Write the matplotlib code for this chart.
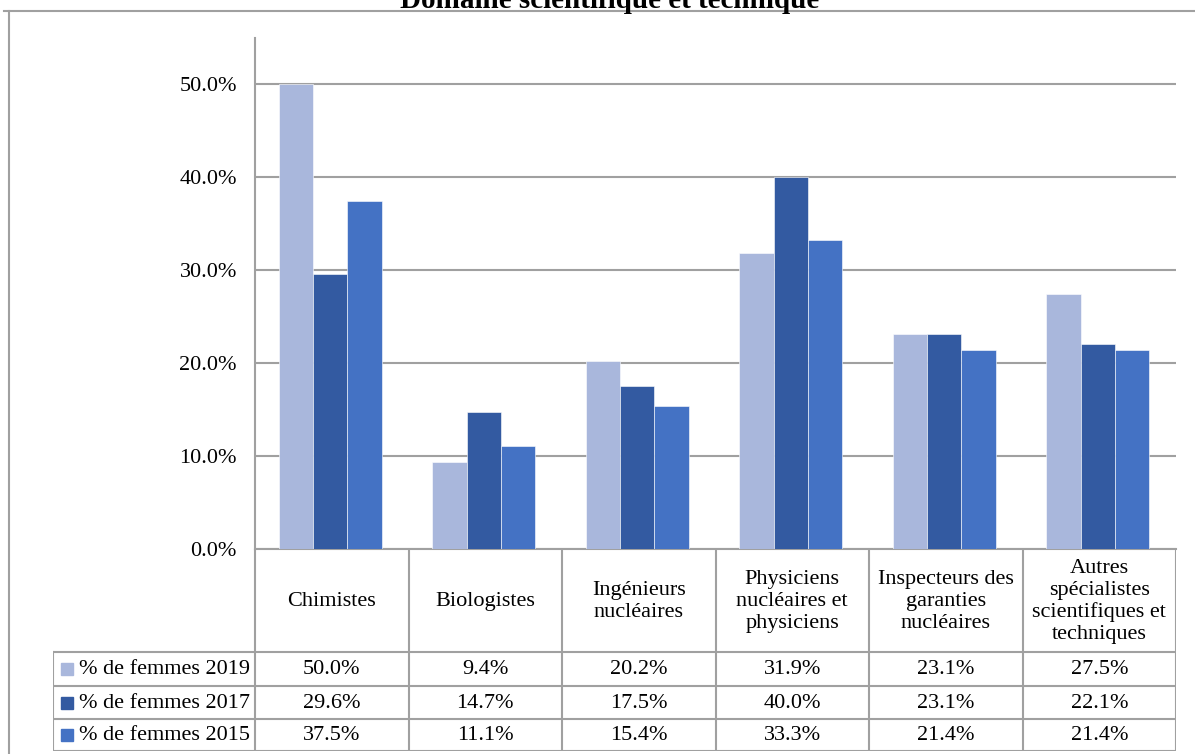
import matplotlib
matplotlib.use("Agg")
import matplotlib.pyplot as plt
from matplotlib.lines import Line2D
from matplotlib.patches import Rectangle
from matplotlib.ticker import FuncFormatter
import numpy as np

plt.rcParams["font.family"] = ["Liberation Serif", "DejaVu Serif"]

title = "Domaine scientifique et technique"
categories = [
    "Chimistes",
    "Biologistes",
    "Ingénieurs\nnucléaires",
    "Physiciens\nnucléaires et\nphysiciens",
    "Inspecteurs des\ngaranties\nnucléaires",
    "Autres\nspécialistes\nscientifiques et\ntechniques",
]
series_labels = ["% de femmes 2019", "% de femmes 2017", "% de femmes 2015"]
femmes_2019 = [50.0, 9.4, 20.2, 31.9, 23.1, 27.5]
femmes_2017 = [29.6, 14.7, 17.5, 40.0, 23.1, 22.1]
femmes_2015 = [37.5, 11.1, 15.4, 33.3, 21.4, 21.4]
colors = ["#A9B7DC", "#335AA1", "#4472C4"]
y_ticks = [0, 10, 20, 30, 40, 50]

W, H = 1195, 754
GRAY = "#A0A0A0"
FS = 16

fig = plt.figure(figsize=(W / 100, H / 100), dpi=100)


def fx(px):
    return px / W


def fy(py):
    return 1 - py / H


# plot area in pixels
left, right, top, bottom = 255, 1176, 38, 549
ax = fig.add_axes([fx(left), fy(bottom), fx(right - left), (bottom - top) / H])

series = [femmes_2019, femmes_2017, femmes_2015]
x = np.arange(len(categories))
bw = 0.224
for i, (vals, col) in enumerate(zip(series, colors)):
    ax.bar(x - 0.01 + (i - 1) * bw, vals, bw, color=col, edgecolor="white",
           linewidth=0.4, zorder=3)

ax.set_xlim(-0.5, len(categories) - 0.5)
ax.set_ylim(0, 55)
ax.set_yticks(y_ticks)
ax.yaxis.set_major_formatter(FuncFormatter(lambda v, p: f"{v:.1f}%"))
ax.tick_params(axis="y", length=0, labelsize=FS, pad=13)
ax.set_xticks([])
ax.grid(axis="y", color=GRAY, linewidth=1.5, zorder=1)
for s in ["top", "right"]:
    ax.spines[s].set_visible(False)
ax.spines["left"].set_color(GRAY)
ax.spines["left"].set_linewidth(1.5)
ax.spines["bottom"].set_color(GRAY)
ax.spines["bottom"].set_linewidth(1.5)

# data table below the axes
tleft, tbottom = 53, 751
upp = (right - left) / len(categories)
tx0 = -0.5 - (left - tleft) / upp
tax = fig.add_axes([fx(tleft), fy(tbottom), fx(right - tleft), (tbottom - bottom) / H])
tax.set_xlim(tx0, len(categories) - 0.5)
row_edges = [0, 103, 137, 170, 202]
tax.set_ylim(row_edges[-1], 0)
tax.axis("off")

lk = dict(color=GRAY, linewidth=1.5, solid_capstyle="projecting")
for k in range(len(categories) + 1):
    tax.plot([k - 0.5, k - 0.5], [0, row_edges[-1]], **lk)
for ye in row_edges[1:]:
    tax.plot([tx0, len(categories) - 0.5], [ye, ye], **lk)
tax.plot([tx0, tx0], [row_edges[1], row_edges[-1]], **lk)

for k, cat in enumerate(categories):
    tax.text(k, row_edges[1] / 2 + 1, cat, ha="center", va="center",
             fontsize=FS, linespacing=1.2)

for r, (lab, vals, col) in enumerate(zip(series_labels, series, colors)):
    yc = (row_edges[r + 1] + row_edges[r + 2]) / 2
    sq = 12 / upp
    tax.add_patch(Rectangle((tx0 + 8 / upp, yc - 6), sq, 12, color=col))
    tax.text(tx0 + 26 / upp, yc + 1, lab, ha="left", va="center", fontsize=FS)
    for k, v in enumerate(vals):
        tax.text(k, yc + 1, f"{v:.1f}%", ha="center", va="center", fontsize=FS)

# outer chart frame
fig.add_artist(Line2D([fx(4), fx(W)], [fy(11), fy(11)], color=GRAY, linewidth=1.5))
fig.add_artist(Line2D([fx(9), fx(9)], [fy(11), fy(H)], color=GRAY, linewidth=1.5))

fig.text(fx(610), fy(8), title, ha="center", va="baseline",
         fontsize=21, fontweight="bold")

fig.savefig("out.png", dpi=100)
